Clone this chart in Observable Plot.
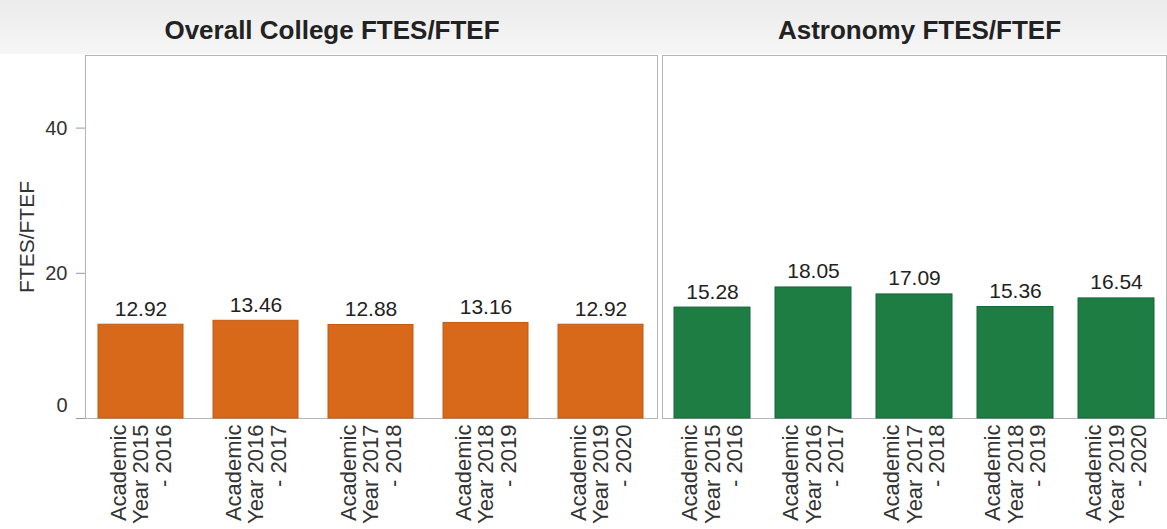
<!DOCTYPE html>
<html>
<head>
<meta charset="utf-8">
<script src="https://cdn.jsdelivr.net/npm/d3@7"></script>
<script src="https://cdn.jsdelivr.net/npm/@observablehq/plot@0.6"></script>
<style>
  html, body { margin: 0; padding: 0; background: #fff; }
  #wrap { display: flex; width: 1167px; height: 529px; overflow: hidden; font-family: "Liberation Sans", Arial, sans-serif; }
  .panel { flex: none; }
  .title {
    height: 54px; line-height: 60px; text-align: center; box-sizing: border-box;
    font-weight: bold; font-size: 26px; color: #222;
    background: linear-gradient(#ebebeb, #f6f6f6);
  }
  #left .title { padding-left: 6px; }
  #right .title { padding-left: 14px; }
  svg { display: block; }
</style>
</head>
<body>
<div id="wrap">
  <div class="panel" id="left" style="width:658px"></div>
  <div class="panel" id="right" style="width:509px"></div>
</div>
<script>
const periods = [
  "Academic Year 2015 - 2016",
  "Academic Year 2016 - 2017",
  "Academic Year 2017 - 2018",
  "Academic Year 2018 - 2019",
  "Academic Year 2019 - 2020"
];
const overallValues = [12.92, 13.46, 12.88, 13.16, 12.92];
const astronomyValues = [15.28, 18.05, 17.09, 15.36, 16.54];
const panelTitles = ["Overall College FTES/FTEF", "Astronomy FTES/FTEF"];
const yTicksUpper = [20, 40];
const yTicksBase = [0];
const yLabel = "FTES/FTEF";

const fmtTick = d => d.replace(" Year", "\nYear").replace(" - ", "\n- ");

function makePanel(values, opts) {
  const data = periods.map((p, i) => ({period: p, value: values[i]}));
  const marks = [
    Plot.frame({stroke: "#b5b5b5"}),
    Plot.barY(data, {x: "period", y: "value", fill: opts.fill, stroke: opts.stroke, strokeWidth: 1}),
    Plot.text(data, {x: "period", y: "value", text: d => d.value.toFixed(2), dy: -9, lineAnchor: "bottom", fontSize: 21, fill: "#222"}),
    Plot.axisX({tickSize: 0, tickPadding: 6, tickRotate: -90, tickFormat: fmtTick, lineHeight: 1.03, fontSize: 22, fill: "#333", label: null})
  ];
  if (opts.yAxis) {
    marks.push(
      Plot.axisY({ticks: yTicksUpper, tickSize: 9, tickPadding: 9, fontSize: 20, fill: "#333", stroke: "#999", label: null}),
      Plot.axisY({ticks: yTicksBase, tickSize: 9, tickPadding: 9, fontSize: 20, fill: "#333", stroke: "#999", label: null, text: null}),
      Plot.axisY({ticks: yTicksBase, tickSize: 0, tickPadding: 18, fontSize: 20, fill: "#333", dy: -13, label: null}),
      Plot.text([yLabel], {frameAnchor: "left", textAnchor: "middle", rotate: -90, dx: -58, fontSize: 21, fill: "#333"})
    );
  }
  return Plot.plot({
    width: opts.width, height: 475,
    marginLeft: opts.marginLeft, marginRight: 1, marginTop: 1, marginBottom: 111,
    x: {domain: periods, paddingInner: opts.pi, paddingOuter: opts.po, axis: null},
    y: {domain: [0, 50], axis: null},
    style: {fontFamily: "'Liberation Sans', Arial, sans-serif", background: "#fff", color: "#333"},
    marks
  });
}

const specs = [
  {el: "left", values: overallValues, title: panelTitles[0], width: 658, marginLeft: 85, pi: 0.26, po: 0.113, fill: "#d8691b", stroke: "#c25a12", yAxis: true},
  {el: "right", values: astronomyValues, title: panelTitles[1], width: 509, marginLeft: 4, pi: 0.245, po: 0.098, fill: "#1d7d43", stroke: "#15663a", yAxis: false}
];
for (const s of specs) {
  const host = document.getElementById(s.el);
  const t = document.createElement("div");
  t.className = "title";
  t.textContent = s.title;
  host.appendChild(t);
  host.appendChild(makePanel(s.values, s));
}
</script>
</body>
</html>
